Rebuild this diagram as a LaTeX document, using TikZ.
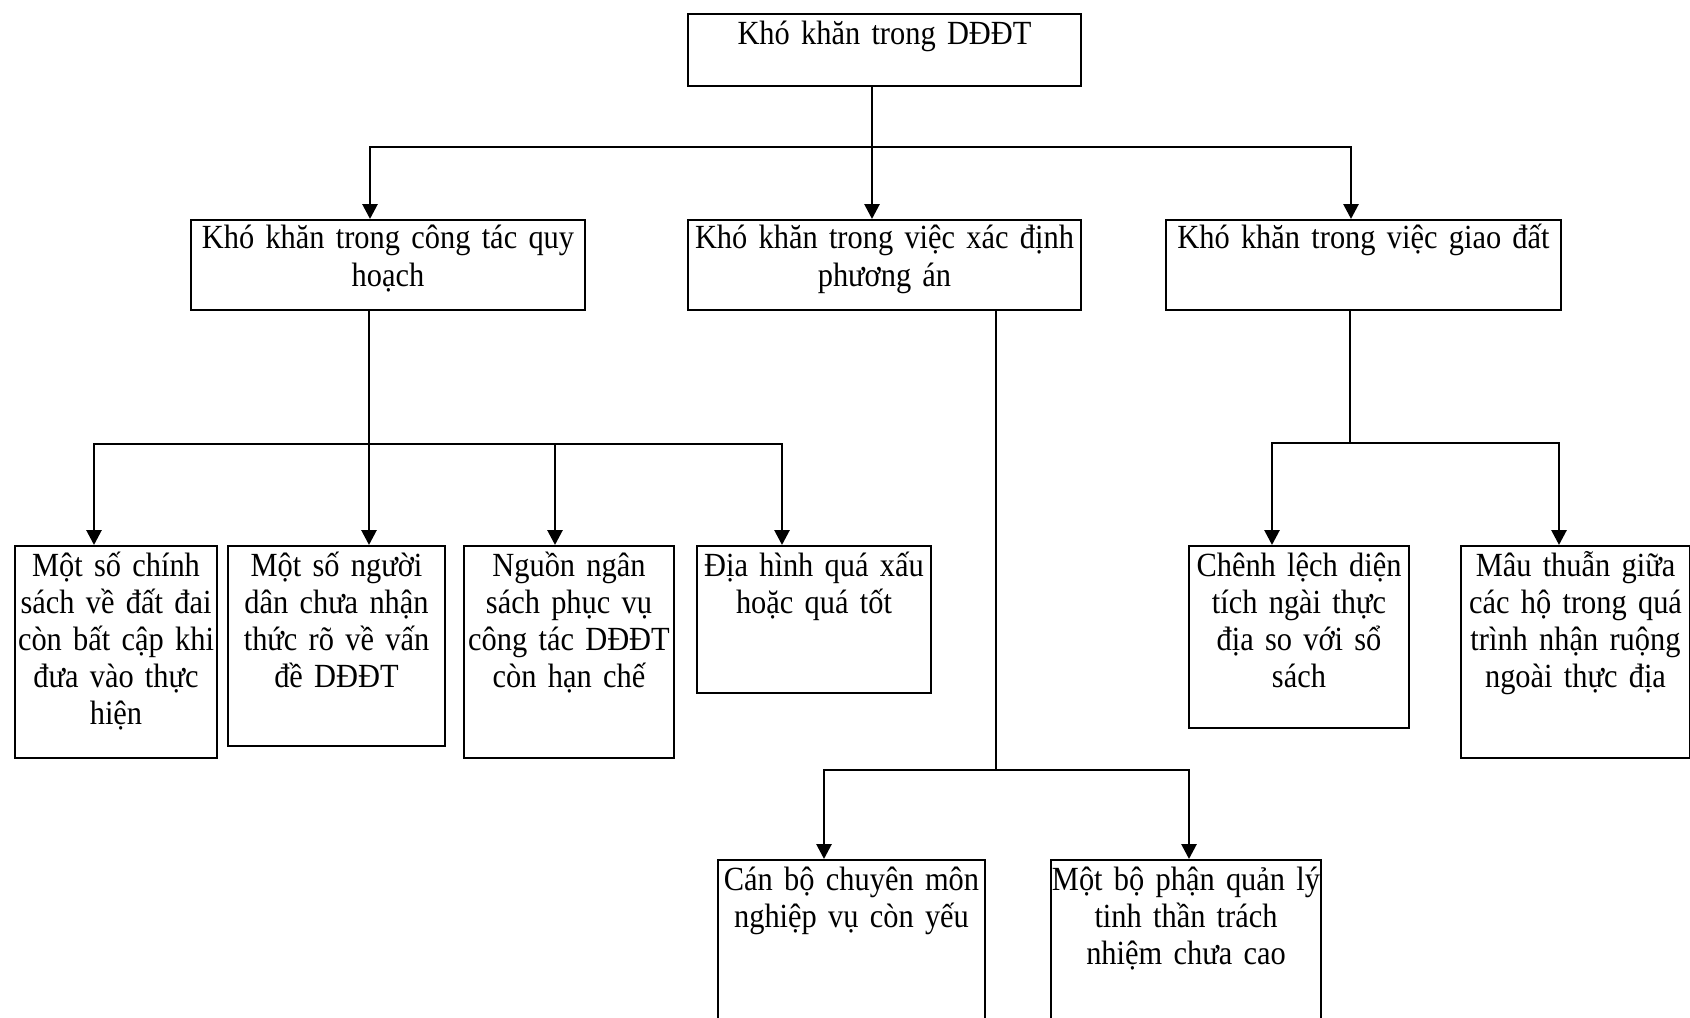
\documentclass[tikz,border=0pt]{standalone}
\usepackage{fontspec}
\setmainfont{Liberation Serif}[FakeStretch=0.9, WordSpace=0.8]
\usetikzlibrary{arrows.meta}

\tikzset{every picture/.style={line width=1pt}}
\tikzset{
  box/.style={draw, anchor=north west, align=center, inner xsep=-2pt, inner ysep=1pt,
    text height=14pt, font=\fontsize{16.9pt}{18.5pt}\selectfont},
  arr/.style={line width=1.4pt, -{Triangle[length=7.5pt,width=7.5pt]}},
  link/.style={line width=1.4pt}
}

\begin{document}
\begin{tikzpicture}[x=0.5pt,y=-0.5pt]
\clip (0,0) rectangle (1690,1017);
% top box
\node[box, text width=200.5pt, text depth=20pt] (root) at (687,13) {Khó khăn trong DĐĐT};
% second row
\node[box, text width=201pt, text height=13pt, text depth=30pt,
  font=\fontsize{16.9pt}{19.4pt}\selectfont] (qh) at (190,219) {Khó khăn trong công tác quy\\hoạch};
\node[box, text width=200.5pt, text height=13pt, text depth=30pt,
  font=\fontsize{16.9pt}{19.4pt}\selectfont] (pa) at (687,219) {Khó khăn trong việc xác định\\phương án};
\node[box, text width=201.5pt, text height=13pt, text depth=30pt] (gd) at (1165,219) {Khó khăn trong việc giao đất};
% under qh
\node[box, text width=105pt, text depth=90pt] (b1) at (14,545) {Một số chính\\sách về đất đai\\còn bất cập khi\\đưa vào thực\\hiện};
\node[box, text width=112.5pt, text depth=84pt] (b2) at (227,545) {Một số người\\dân chưa nhận\\thức rõ về vấn\\đề DĐĐT};
\node[box, text width=109pt, text depth=90pt] (b3) at (463,545) {Nguồn ngân\\sách phục vụ\\công tác DĐĐT\\còn hạn chế};
\node[box, text width=121pt, text depth=57.5pt] (b4) at (696,545) {Địa hình quá xấu\\hoặc quá tốt};
% under pa
\node[box, text width=137.5pt, text depth=84pt] (c1) at (717,859) {Cán bộ chuyên môn\\nghiệp vụ còn yếu};
\node[box, text width=139pt, text depth=84pt] (c2) at (1050,859) {Một bộ phận quản lý\\tinh thần trách\\nhiệm chưa cao};
% under gd
\node[box, text width=114pt, text depth=75pt] (d1) at (1188,545) {Chênh lệch diện\\tích ngài thực\\địa so với sổ\\sách};
\node[box, text width=118.5pt, text depth=90pt] (d2) at (1460,545) {Mâu thuẫn giữa\\các hộ trong quá\\trình nhận ruộng\\ngoài thực địa};

% connectors
\coordinate (s1) at (872,147);
\draw[arr] (s1 |- root.south) -- (s1 |- pa.north);
\draw[arr] (s1) -| ([xshift=-9pt]qh.north);
\draw[arr] (s1) -| ([xshift=-6.25pt]gd.north);

\coordinate (s2) at (369,444);
\draw[link] (s2 |- qh.south) -- (s2);
\draw[arr] (s2) -| ([xshift=-11pt]b1.north);
\draw[arr] (s2) -- (s2 |- b2.north);
\draw[arr] (s2) -| ([xshift=-7pt]b3.north);
\draw[arr] (s2) -| ([xshift=-16pt]b4.north);

\coordinate (s3) at (996,770);
\draw[link] (s3 |- pa.south) -- (s3);
\draw[arr] (s3) -| ([xshift=-13.75pt]c1.north);
\draw[arr] (s3) -| ([xshift=1.5pt]c2.north);

\coordinate (s4) at (1350,443);
\draw[link] (s4 |- gd.south) -- (s4);
\draw[arr] (s4) -| ([xshift=-13.5pt]d1.north);
\draw[arr] (s4) -| ([xshift=-8.25pt]d2.north);
\end{tikzpicture}
\end{document}
